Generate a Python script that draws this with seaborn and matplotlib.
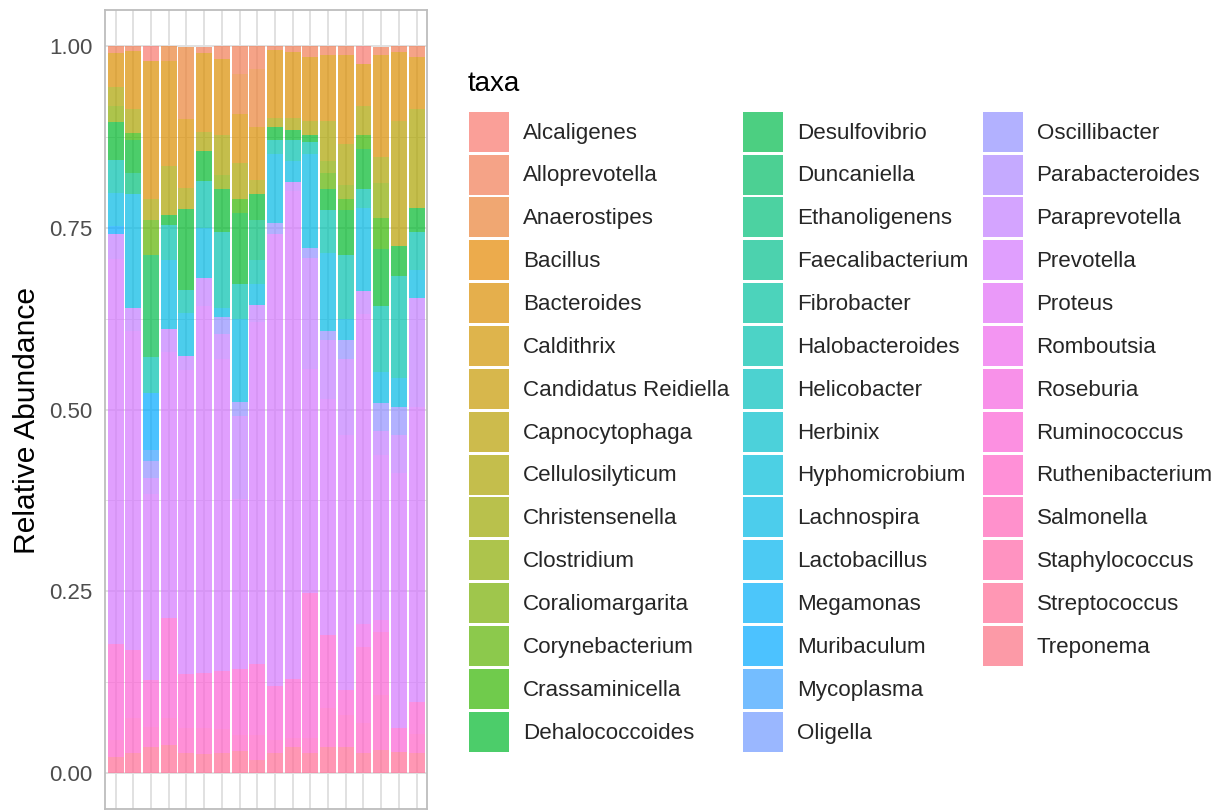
import numpy as np
import pandas as pd
import matplotlib
matplotlib.use("Agg")
import matplotlib.pyplot as plt
from matplotlib.patches import Patch
from matplotlib.ticker import FixedLocator
import seaborn as sns

# ---------------------------------------------------------------- data
taxa = [
    "Alcaligenes", "Alloprevotella", "Anaerostipes", "Bacillus", "Bacteroides",
    "Caldithrix", "Candidatus Reidiella", "Capnocytophaga", "Cellulosilyticum",
    "Christensenella", "Clostridium", "Coraliomargarita", "Corynebacterium",
    "Crassaminicella", "Dehalococcoides", "Desulfovibrio", "Duncaniella",
    "Ethanoligenens", "Faecalibacterium", "Fibrobacter", "Halobacteroides",
    "Helicobacter", "Herbinix", "Hyphomicrobium", "Lachnospira", "Lactobacillus",
    "Megamonas", "Muribaculum", "Mycoplasma", "Oligella", "Oscillibacter",
    "Parabacteroides", "Paraprevotella", "Prevotella", "Proteus", "Romboutsia",
    "Roseburia", "Ruminococcus", "Ruthenibacterium", "Salmonella",
    "Staphylococcus", "Streptococcus", "Treponema",
]

samples = ["S01", "S02", "S03", "S04", "S05", "S06", "S07", "S08", "S09",
           "S10", "S11", "S12", "S13", "S14", "S15", "S16", "S17", "S18"]

# relative abundance of each genus in the 18 samples
alcaligenes      = [0, 0, 0.021, 0, 0, 0, 0, 0, 0, 0, 0, 0, 0, 0, 0.025, 0, 0, 0]
alloprevotella   = [0.010, 0.007, 0, 0, 0, 0.008, 0.018, 0.038, 0.031, 0.005, 0.008, 0.015, 0.012, 0.012, 0, 0.012, 0.008, 0.015]
anaerostipes     = [0, 0, 0, 0.021, 0.099, 0, 0, 0.055, 0.081, 0, 0, 0, 0, 0, 0, 0, 0, 0]
bacteroides      = [0.046, 0.079, 0.189, 0.144, 0.095, 0.108, 0.104, 0.068, 0.072, 0.094, 0.091, 0.088, 0.091, 0.123, 0.058, 0.139, 0.095, 0.071]
capnocytophaga   = [0, 0, 0, 0, 0, 0, 0, 0, 0, 0, 0, 0, 0, 0, 0, 0, 0.172, 0]
cellulosilyticum = [0.026, 0.033, 0.029, 0.068, 0.029, 0.026, 0.056, 0.049, 0.020, 0.013, 0.017, 0.019, 0.055, 0.056, 0.039, 0.036, 0, 0.137]
clostridium      = [0.023, 0, 0, 0, 0, 0, 0.019, 0, 0, 0, 0, 0, 0.016, 0.019, 0, 0.049, 0, 0]
corynebacterium  = [0, 0, 0.049, 0, 0, 0, 0, 0, 0, 0, 0, 0, 0.023, 0, 0, 0, 0, 0]
crassaminicella  = [0, 0.010, 0, 0, 0, 0, 0, 0.020, 0, 0, 0, 0, 0, 0.016, 0.020, 0.042, 0, 0]
dehalococcoides  = [0.052, 0.045, 0, 0.013, 0.111, 0.042, 0.059, 0.097, 0.035, 0.017, 0.013, 0.010, 0.029, 0.062, 0.055, 0.078, 0.042, 0.033]
desulfovibrio    = [0, 0, 0.140, 0, 0, 0, 0, 0, 0, 0, 0, 0, 0, 0, 0, 0, 0, 0]
ethanoligenens   = [0, 0.030, 0, 0, 0, 0, 0, 0, 0.056, 0, 0, 0, 0, 0, 0, 0, 0, 0]
halobacteroides  = [0.045, 0, 0.049, 0.049, 0.032, 0.065, 0.104, 0.049, 0.032, 0.019, 0.029, 0.016, 0.059, 0.088, 0.026, 0.091, 0.140, 0.052]
lachnospira      = [0.046, 0.156, 0, 0.094, 0.059, 0.068, 0.013, 0.114, 0.029, 0.095, 0.029, 0.130, 0.107, 0.029, 0.114, 0.043, 0.039, 0.039]
muribaculum      = [0.010, 0, 0.078, 0, 0, 0, 0, 0, 0, 0, 0, 0, 0, 0, 0, 0, 0, 0]
mycoplasma       = [0, 0, 0.016, 0, 0, 0, 0, 0, 0, 0, 0, 0, 0, 0, 0, 0, 0, 0]
oscillibacter    = [0, 0, 0.023, 0, 0, 0, 0.023, 0.019, 0, 0.016, 0, 0.013, 0.013, 0.026, 0, 0.039, 0.039, 0]
paraprevotella   = [0.035, 0.032, 0.022, 0.032, 0.019, 0.039, 0.035, 0.114, 0.023, 0, 0.013, 0.153, 0.081, 0.104, 0.032, 0.032, 0.052, 0.149]
prevotella       = [0.530, 0.439, 0.256, 0.366, 0.419, 0.504, 0.429, 0.234, 0.471, 0.621, 0.670, 0.309, 0.324, 0.351, 0.426, 0.228, 0.351, 0.406]
romboutsia       = [0, 0, 0, 0, 0, 0, 0, 0, 0, 0, 0, 0, 0, 0, 0.031, 0.016, 0, 0]
ruminococcus     = [0.132, 0.093, 0.065, 0.137, 0.074, 0.076, 0.080, 0.091, 0.097, 0.075, 0.082, 0.199, 0.101, 0.034, 0.105, 0.087, 0.033, 0.044]
ruthenibacterium = [0.023, 0.049, 0.027, 0.037, 0.034, 0.036, 0.032, 0.022, 0.035, 0.017, 0.012, 0.020, 0.053, 0.044, 0.041, 0.075, 0, 0.026]
streptococcus    = [0.022, 0.027, 0.036, 0.039, 0.028, 0.026, 0.028, 0.030, 0.018, 0.028, 0.036, 0.028, 0.036, 0.036, 0.028, 0.032, 0.029, 0.028]

observed = {
    "Alcaligenes": alcaligenes, "Alloprevotella": alloprevotella,
    "Anaerostipes": anaerostipes, "Bacteroides": bacteroides,
    "Capnocytophaga": capnocytophaga, "Cellulosilyticum": cellulosilyticum,
    "Clostridium": clostridium, "Corynebacterium": corynebacterium,
    "Crassaminicella": crassaminicella, "Dehalococcoides": dehalococcoides,
    "Desulfovibrio": desulfovibrio, "Ethanoligenens": ethanoligenens,
    "Halobacteroides": halobacteroides, "Lachnospira": lachnospira,
    "Muribaculum": muribaculum, "Mycoplasma": mycoplasma,
    "Oscillibacter": oscillibacter, "Paraprevotella": paraprevotella,
    "Prevotella": prevotella, "Romboutsia": romboutsia,
    "Ruminococcus": ruminococcus, "Ruthenibacterium": ruthenibacterium,
    "Streptococcus": streptococcus,
}
abundance = pd.DataFrame({t: observed.get(t, [0.0] * len(samples)) for t in taxa},
                         index=samples)


# ------------------------------------------------------- hue palette (HCL)
def hcl_color(h, c=100.0, l=65.0):
    """Polar-LUV (HCL) -> sRGB, D65 white point."""
    hr = np.deg2rad(h)
    U, V = c * np.cos(hr), c * np.sin(hr)
    Xn, Yn, Zn = 95.047, 100.0, 108.883
    den = Xn + 15 * Yn + 3 * Zn
    un, vn = 4 * Xn / den, 9 * Yn / den
    Y = Yn * ((l + 16) / 116) ** 3 if l > 8 else Yn * l / 903.3
    u = U / (13 * l) + un
    v = V / (13 * l) + vn
    X = 9.0 * Y * u / (4 * v)
    Z = -X / 3 - 5 * Y + 3 * Y / v
    rgb = np.array([
        3.240479 * X - 1.537150 * Y - 0.498535 * Z,
        -0.969256 * X + 1.875992 * Y + 0.041556 * Z,
        0.055648 * X - 0.204043 * Y + 1.057311 * Z,
    ]) / Yn
    rgb = np.where(rgb > 0.00304, 1.055 * np.abs(rgb) ** (1 / 2.4) - 0.055, 12.92 * rgb)
    return tuple(np.clip(rgb, 0, 1))


hues = np.linspace(15, 375, len(taxa) + 1)[:-1]
colors = {t: hcl_color(h) for t, h in zip(taxa, hues)}
ALPHA = 0.7

# ---------------------------------------------------------------- figure
sns.set_style("white")
plt.rcParams["font.family"] = ["Liberation Sans", "DejaVu Sans"]

W, H = 1226, 811
fig = plt.figure(figsize=(W / 100, H / 100), dpi=100)
ax = fig.add_axes([105 / W, 1 - 809.4 / H, 322.2 / W, (809.4 - 9.65) / H])

# stacked bars: first taxon on top, last taxon at the bottom
base = np.zeros(len(samples))
for t in taxa[::-1]:
    vals = abundance[t].to_numpy(dtype=float)
    if not vals.any():
        continue
    sns.barplot(x=samples, y=vals, order=samples, bottom=base.copy(),
                color=colors[t], alpha=ALPHA, saturation=1, width=0.9,
                linewidth=0, errorbar=None, ax=ax)
    base += vals

# axes styling
ax.set_xlim(-0.6, len(samples) - 0.4)
ax.set_ylim(-0.05, 1.05)
ax.set_xticks(range(len(samples)))
ax.set_xticklabels([])
ax.set_yticks([0, 0.25, 0.5, 0.75, 1.0])
ax.set_yticklabels(["0.00", "0.25", "0.50", "0.75", "1.00"])
ax.yaxis.set_minor_locator(FixedLocator([0.125, 0.375, 0.625, 0.875]))
ax.set_axisbelow(True)
ax.grid(True, which="major", axis="both", color="#DEDEDE", linewidth=1.28)
ax.grid(True, which="minor", axis="y", color="#DEDEDE", linewidth=0.64)
ax.tick_params(which="minor", length=0)
ax.tick_params(which="major", length=5, width=1.28, color="#B3B3B3",
               labelcolor="#4D4D4D", labelsize=16, pad=4)
for sp in ax.spines.values():
    sp.set_visible(True)
    sp.set_color("#BDBDBD")
    sp.set_linewidth(1.3)

ax.set_xlabel("")
ax.set_ylabel("Relative Abundance", fontsize=21.6, color="black")
ax.yaxis.set_label_coords(-0.198, 0.486)

# legend: three columns of 15, 15 and 13 keys
LEG_FS = 16.1
handles = [Patch(facecolor=colors[t], alpha=ALPHA, edgecolor="none") for t in taxa]
labels = list(taxa)
handles.append(Patch(facecolor="none", edgecolor="none"))
labels.append("")
fig.legend(handles, labels, loc="upper left",
           bbox_to_anchor=(469 / W, 1 - 111.7 / H), bbox_transform=fig.transFigure,
           ncol=3, frameon=False, fontsize=LEG_FS,
           handlelength=1.79, handleheight=2.375, labelspacing=0.128,
           handletextpad=0.626, columnspacing=0.62,
           borderpad=0, borderaxespad=0)
fig.text(468 / W, 1 - 90.7 / H, "taxa", fontsize=20, ha="left", va="baseline",
         color="black")

fig.savefig("out.png", dpi=100)
